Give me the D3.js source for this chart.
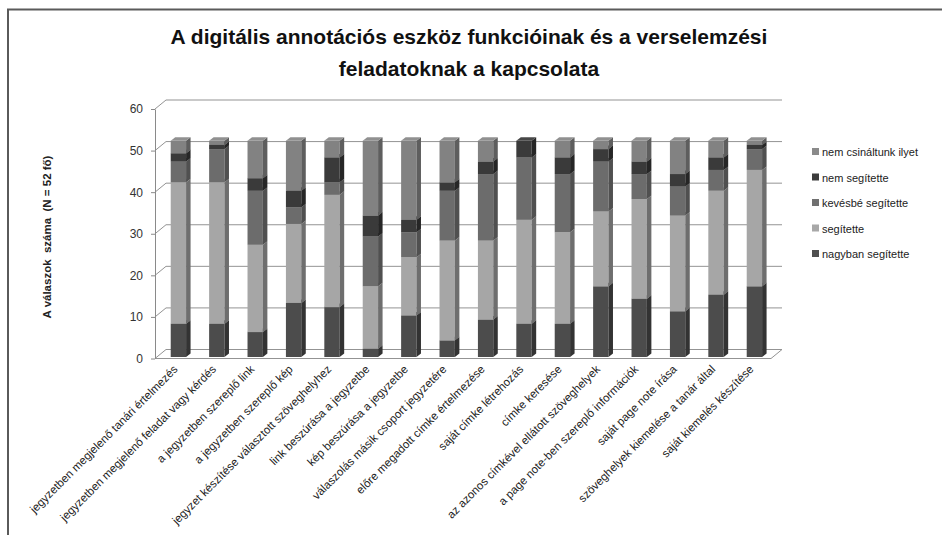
<!DOCTYPE html>
<html>
<head>
<meta charset="utf-8">
<script src="https://cdn.jsdelivr.net/npm/d3@7"></script>
<style>
body { margin: 0; background: #fff; }
svg { display: block; }
</style>
</head>
<body>
<script>
var categories = [
	"jegyzetben megjelenő tanári értelmezés",
	"jegyzetben megjelenő feladat vagy kérdés",
	"a jegyzetben szereplő link",
	"a jegyzetben szereplő kép",
	"jegyzet készítése választott szöveghelyhez",
	"link beszúrása a jegyzetbe",
	"kép beszúrása a jegyzetbe",
	"válaszolás másik csoport jegyzetére",
	"előre megadott címke értelmezése",
	"saját címke létrehozás",
	"címke keresése",
	"az azonos címkével ellátott szöveghelyek",
	"a page note-ben szereplő információk",
	"saját page note írása",
	"szöveghelyek kiemelése a tanár által",
	"saját kiemelés készítése"
];
var seriesNames = ["nagyban segítette", "segítette", "kevésbé segítette", "nem segítette", "nem csináltunk ilyet"];
var nagyban   = [8, 8, 6, 13, 12, 2, 10, 4, 9, 8, 8, 17, 14, 11, 15, 17];
var segitette = [34, 34, 21, 19, 27, 15, 14, 24, 19, 25, 22, 18, 24, 23, 25, 28];
var kevesbe   = [5, 8, 13, 4, 3, 12, 6, 12, 16, 15, 14, 12, 6, 7, 5, 5];
var nemSeg    = [2, 1, 3, 4, 6, 5, 3, 2, 3, 4, 4, 3, 3, 3, 3, 1];
var nemCsin   = [3, 1, 9, 12, 4, 18, 19, 10, 5, 0, 4, 2, 5, 8, 4, 1];
var yTicks = [0, 10, 20, 30, 40, 50, 60];

var width = 942, height = 535;
var front = {"nagyban segítette": "#4c4c4c", "segítette": "#a6a6a6", "kevésbé segítette": "#6c6c6c", "nem segítette": "#3a3a3a", "nem csináltunk ilyet": "#828282"};
var side  = {"nagyban segítette": "#333333", "segítette": "#6e6e6e", "kevésbé segítette": "#505050", "nem segítette": "#262626", "nem csináltunk ilyet": "#5e5e5e"};
var topc  = {"nagyban segítette": "#5a5a5a", "segítette": "#b4b4b4", "kevésbé segítette": "#7a7a7a", "nem segítette": "#474747", "nem csináltunk ilyet": "#909090"};
var legendCol = {"nagyban segítette": "#4f4f4f", "segítette": "#a8a8a8", "kevésbé segítette": "#707070", "nem segítette": "#3c3c3c", "nem csináltunk ilyet": "#8a8a8a"};

var table = categories.map(function(c, i) {
	return {cat: c, "nagyban segítette": nagyban[i], "segítette": segitette[i],
		"kevésbé segítette": kevesbe[i], "nem segítette": nemSeg[i], "nem csináltunk ilyet": nemCsin[i]};
});
var stacked = d3.stack().keys(seriesNames)(table);

var axisX = 155, dx = 11, dy = -9;   // wall depth
var bx = 4.5, by = -3.5;              // bar depth

var x = d3.scaleBand()
	.domain(categories)
	.range([159.2, 773.6])
	.paddingInner(0.6)
	.paddingOuter(0.3);
var y = d3.scaleLinear()
	.domain([0, 60])
	.range([358.5, 109]);

var svg = d3.select("body").append("svg")
	.attr("width", width)
	.attr("height", height)
	.style("font-family", "'Liberation Sans', Arial, sans-serif");

// frame
svg.append("path")
	.attr("d", "M8,535 V9.5 H942")
	.attr("fill", "none")
	.attr("stroke", "#5a5a5a")
	.attr("stroke-width", 2);

// title
svg.append("text")
	.attr("x", 469).attr("y", 44)
	.attr("text-anchor", "middle")
	.attr("font-size", "21px").attr("font-weight", "bold").attr("fill", "#111")
	.text("A digitális annotációs eszköz funkcióinak és a verselemzési");
svg.append("text")
	.attr("x", 469).attr("y", 76)
	.attr("text-anchor", "middle")
	.attr("font-size", "21px").attr("font-weight", "bold").attr("fill", "#111")
	.text("feladatoknak a kapcsolata");

var grid = svg.append("g").attr("stroke", "#939393").attr("fill", "none");
var xEnd = 771;
// back wall gridlines + side wall diagonals
yTicks.forEach(function(v) {
	grid.append("line")
		.attr("x1", axisX).attr("y1", y(v))
		.attr("x2", axisX + dx).attr("y2", y(v) + dy);
	grid.append("line")
		.attr("x1", axisX + dx).attr("y1", y(v) + dy)
		.attr("x2", xEnd + dx).attr("y2", y(v) + dy);
});
// floor
grid.append("path")
	.attr("d", "M" + axisX + "," + y(0) + " H" + xEnd + " L" + (xEnd + dx) + "," + (y(0) + dy));

// y axis
var leftAxis = d3.axisLeft(y).tickValues(yTicks).tickSizeInner(4).tickSizeOuter(0).tickPadding(8);
var ax = svg.append("g")
	.attr("transform", "translate(" + axisX + ",0)")
	.call(leftAxis);
ax.select(".domain").attr("stroke", "#8a8a8a");
ax.selectAll(".tick line").attr("stroke", "#8a8a8a");
ax.selectAll(".tick text")
	.attr("font-size", "12px")
	.attr("fill", "#333")
	.style("font-family", "'Liberation Sans', Arial, sans-serif");

svg.append("text")
	.attr("transform", "translate(51,237) rotate(-90)")
	.attr("text-anchor", "middle")
	.attr("font-size", "11.5px").attr("font-weight", "bold").attr("fill", "#222")
	.style("white-space", "pre")
	.text("A válaszok  száma  (N = 52 fő)");

// bars
var yb = function(v) { return y(v) - 1.5; };
var bars = svg.append("g");
categories.forEach(function(c, i) {
	var x0 = x(c), w = x.bandwidth();
	stacked.forEach(function(s) {
		var d = s[i];
		if (d[1] - d[0] <= 0) return;
		var k = s.key;
		var y0 = yb(d[0]), y1 = yb(d[1]);
		bars.append("rect")
			.attr("x", x0).attr("y", y1)
			.attr("width", w).attr("height", y0 - y1)
			.attr("fill", front[k]);
		bars.append("path")
			.attr("d", "M" + (x0 + w) + "," + y0 + " L" + (x0 + w + bx) + "," + (y0 + by) +
				" L" + (x0 + w + bx) + "," + (y1 + by) + " L" + (x0 + w) + "," + y1 + "Z")
			.attr("fill", side[k]);
		bars.append("path")
			.attr("d", "M" + x0 + "," + y1 + " L" + (x0 + w) + "," + y1 +
				" L" + (x0 + w + bx) + "," + (y1 + by) + " L" + (x0 + bx) + "," + (y1 + by) + "Z")
			.attr("fill", topc[k]);
	});
});

// category labels
svg.append("g").selectAll("text")
	.data(categories)
	.enter().append("text")
	.attr("transform", function(d) {
		return "translate(" + (x(d) + x.bandwidth() / 2) + ",370) rotate(-45)";
	})
	.attr("text-anchor", "end")
	.attr("font-size", "11.5px")
	.attr("fill", "#222")
	.text(function(d) { return d; });

// legend
var legendOrder = seriesNames.slice().reverse();
var lg = svg.append("g").attr("transform", "translate(812,152)");
legendOrder.forEach(function(k, i) {
	var row = lg.append("g").attr("transform", "translate(0," + (i * 25.5) + ")");
	row.append("rect")
		.attr("x", 0).attr("y", -4)
		.attr("width", 7).attr("height", 7)
		.attr("fill", legendCol[k]);
	row.append("text")
		.attr("x", 10).attr("y", 4)
		.attr("font-size", "11px")
		.attr("fill", "#222")
		.text(k);
});
</script>
</body>
</html>
